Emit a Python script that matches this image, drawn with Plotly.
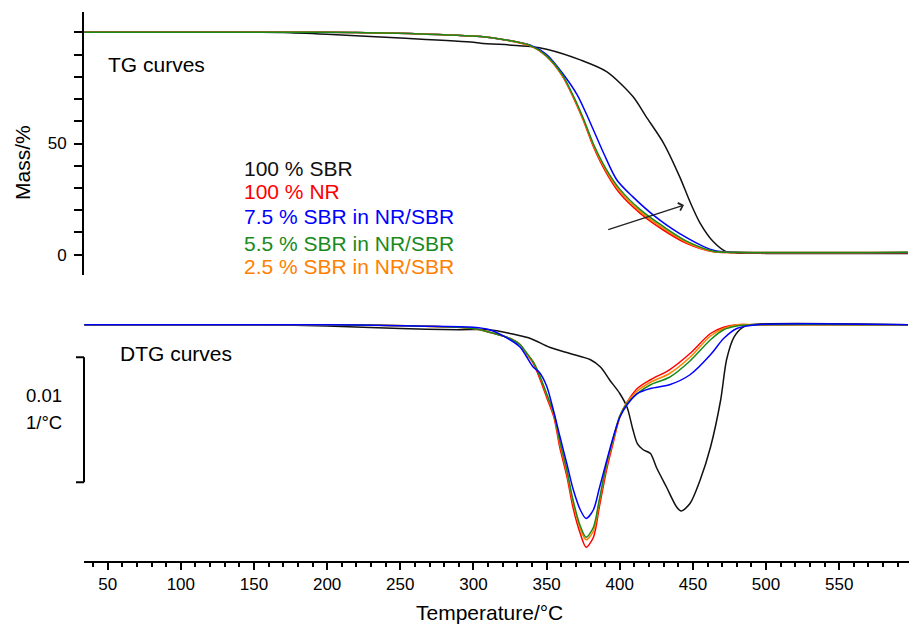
import plotly.graph_objects as go

# ---------------- data ----------------
# TG curves (mass %, vs temperature °C)
tg_sbr_T = [34, 150, 170, 200, 250, 300, 305, 339, 350, 373, 391, 409, 418, 430, 441, 448, 455, 464, 473, 480, 500, 597]
tg_sbr_m = [100, 100, 99.9, 99.1, 97.4, 95.5, 95.1, 93.6, 92.4, 87.6, 82.3, 71.1, 62.1, 50.1, 35.0, 23.8, 14.1, 5.8, 1.3, 0.8, 0.6, 0.6]

tg_T = [34, 200, 220, 260, 305, 320, 339, 350, 361, 368, 375, 382, 391, 400, 414, 430, 446, 464, 480, 597]
tg_nr_m = [100, 100, 99.9, 99.4, 98.1, 96.8, 93.9, 89.1, 80.1, 71.1, 60.6, 48.6, 36.6, 27.6, 18.6, 11.0, 5.0, 1.3, 1.0, 1.0]
tg_green_m = [100, 100, 99.9, 99.4, 98.1, 96.8, 94.0, 89.4, 80.6, 71.8, 61.5, 49.8, 38.2, 29.5, 20.3, 12.6, 6.0, 1.6, 1.1, 1.1]
tg_orange_m = [100, 100, 99.9, 99.4, 98.1, 96.8, 93.9, 89.2, 80.3, 71.4, 61.0, 49.2, 37.4, 28.6, 19.4, 11.8, 5.5, 1.4, 1.0, 1.0]

tg_blue_T = [34, 200, 220, 260, 305, 320, 339, 350, 361, 371, 379, 389, 398, 409, 423, 441, 464, 480, 597]
tg_blue_m = [100, 100, 99.9, 99.4, 98.1, 96.8, 94.2, 90.0, 81.5, 71.8, 60.6, 45.6, 33.6, 26.0, 17.8, 9.5, 2.0, 1.1, 1.0]

# DTG curves (1/°C)
dtg_sbr_T = [34, 150, 200, 250, 290, 311, 325, 339, 352, 366, 380, 387, 393, 400, 405, 409, 412, 416, 421, 425, 432, 439, 442, 448, 455, 462, 469, 473, 478, 484, 489, 597]
dtg_sbr_v = [0, 0, -0.0001, -0.0003, -0.0004, -0.0004, -0.0007, -0.0011, -0.0018, -0.0023, -0.0028, -0.0034, -0.0044, -0.0055,
             -0.0066, -0.0084, -0.0095, -0.0100, -0.0103, -0.0114, -0.0130, -0.0146, -0.0149, -0.0143, -0.0124, -0.0098,
             -0.0060, -0.0028, -0.0010, -0.0002, 0, 0]

dtg_T = [34, 200, 260, 300, 311, 325, 332, 336, 341, 345, 350, 355, 359, 364, 368, 373, 377, 382, 386, 391, 396, 400, 405,
         412, 421, 434, 448, 462, 471, 480, 494, 597]
dtg_nr_v = [0, 0, -0.0001, -0.0003, -0.0006, -0.0011, -0.0016, -0.0023, -0.0031, -0.0042, -0.0058, -0.0074, -0.0098,
            -0.0122, -0.0146, -0.0167, -0.0178, -0.0170, -0.0146, -0.0116, -0.0092, -0.0074, -0.0062, -0.0051, -0.0044,
            -0.0036, -0.0023, -0.0007, -0.0002, 0, 0, 0]
dtg_orange_v = [0, 0, -0.0001, -0.0003, -0.0006, -0.0011, -0.0016, -0.0023, -0.0030, -0.0040, -0.0056, -0.0072, -0.0095,
                -0.0119, -0.0142, -0.0163, -0.0172, -0.0165, -0.0142, -0.0113, -0.0090, -0.0073, -0.0062, -0.0053, -0.0046,
                -0.0039, -0.0026, -0.0009, -0.0003, 0, 0, 0]
dtg_green_v = [0, 0, -0.0001, -0.0003, -0.0006, -0.0011, -0.0016, -0.0022, -0.0030, -0.0040, -0.0055, -0.0071, -0.0093,
               -0.0117, -0.0140, -0.0161, -0.0170, -0.0162, -0.0140, -0.0111, -0.0089, -0.0073, -0.0063, -0.0055, -0.0048,
               -0.0042, -0.0029, -0.0012, -0.0004, -0.0001, 0, 0]
dtg_blue_v = [0, 0, -0.0001, -0.0002, -0.0004, -0.0012, -0.0018, -0.0025, -0.0034, -0.0038, -0.0049, -0.0070, -0.0089,
              -0.0112, -0.0131, -0.0148, -0.0155, -0.0148, -0.0131, -0.0109, -0.0088, -0.0074, -0.0064, -0.0055, -0.0051,
              -0.0048, -0.0040, -0.0024, -0.0011, -0.0003, 0, 0]

labels = ["100 % SBR", "100 % NR", "7.5 % SBR in NR/SBR", "5.5 % SBR in NR/SBR", "2.5 % SBR in NR/SBR"]
colors = ["#111111", "#ff0000", "#0000ff", "#1a8a1a", "#ff8000"]

x_ticks = [50, 100, 150, 200, 250, 300, 350, 400, 450, 500, 550]
tg_ticks = [0, 10, 20, 30, 40, 50, 60, 70, 80, 90, 100]
tg_ticktext = ["0", "", "", "", "", "50", "", "", "", "", ""]
scale_bar_top = -0.0026
scale_bar_len = 0.01

FONT = "Liberation Sans, Arial, Helvetica, sans-serif"

# ---------------- figure ----------------
fig = go.Figure()
lw = 1.5
sm = 0.8


def line(c):
    return dict(color=c, width=lw, shape="spline", smoothing=sm)


# TG
fig.add_trace(go.Scatter(x=tg_sbr_T, y=tg_sbr_m, mode="lines", line=line(colors[0]), xaxis="x", yaxis="y"))
fig.add_trace(go.Scatter(x=tg_blue_T, y=tg_blue_m, mode="lines", line=line(colors[2]), xaxis="x", yaxis="y"))
fig.add_trace(go.Scatter(x=tg_T, y=tg_nr_m, mode="lines", line=line(colors[1]), xaxis="x", yaxis="y"))
fig.add_trace(go.Scatter(x=tg_T, y=tg_orange_m, mode="lines", line=line(colors[4]), xaxis="x", yaxis="y"))
fig.add_trace(go.Scatter(x=tg_T, y=tg_green_m, mode="lines", line=line(colors[3]), xaxis="x", yaxis="y"))

# DTG
fig.add_trace(go.Scatter(x=dtg_sbr_T, y=dtg_sbr_v, mode="lines", line=line(colors[0]), xaxis="x", yaxis="y2"))
fig.add_trace(go.Scatter(x=dtg_T, y=dtg_nr_v, mode="lines", line=line(colors[1]), xaxis="x", yaxis="y2"))
fig.add_trace(go.Scatter(x=dtg_T, y=dtg_orange_v, mode="lines", line=line(colors[4]), xaxis="x", yaxis="y2"))
fig.add_trace(go.Scatter(x=dtg_T, y=dtg_green_v, mode="lines", line=line(colors[3]), xaxis="x", yaxis="y2"))
fig.add_trace(go.Scatter(x=dtg_T, y=dtg_blue_v, mode="lines", line=line(colors[2]), xaxis="x", yaxis="y2"))

fig.update_layout(
    width=909, height=627, autosize=False,
    margin=dict(l=84, r=0, t=12, b=66),
    paper_bgcolor="white", plot_bgcolor="white",
    showlegend=False,
    font=dict(family=FONT, size=17, color="black"),
    xaxis=dict(
        range=[33.8, 597.7], domain=[0, 1], anchor="y2",
        showline=True, linewidth=2, linecolor="black", mirror=False,
        ticks="outside", ticklen=7, tickwidth=1.5, tickcolor="black",
        tickvals=x_ticks, ticktext=[str(v) for v in x_ticks],
        tickfont=dict(size=17, family=FONT), showgrid=False, zeroline=False,
        minor=dict(dtick=10, tick0=0, ticks="outside", ticklen=4, tickwidth=1.5, tickcolor="black", showgrid=False),
    ),
    yaxis=dict(
        domain=[0.5209, 1.0], range=[-9.13, 109.13], anchor="x",
        showline=True, linewidth=2, linecolor="black",
        ticks="outside", ticklen=8, tickwidth=1.5, tickcolor="black",
        tickvals=tg_ticks, ticktext=tg_ticktext, tickfont=dict(size=17, family=FONT),
        ticklabelstandoff=4,
        showgrid=False, zeroline=False,
    ),
    yaxis2=dict(
        domain=[0, 0.4754], range=[-0.0189, 0.00198], anchor="x",
        visible=False, showgrid=False, zeroline=False,
    ),
)

# scale bar for DTG
bar_bottom = scale_bar_top - scale_bar_len
tick_dx = -8 / 825
fig.add_shape(type="line", xref="paper", yref="y2", x0=0, x1=0, y0=scale_bar_top, y1=bar_bottom, line=dict(color="black", width=2))
fig.add_shape(type="line", xref="paper", yref="y2", x0=tick_dx, x1=0, y0=scale_bar_top, y1=scale_bar_top, line=dict(color="black", width=2))
fig.add_shape(type="line", xref="paper", yref="y2", x0=tick_dx, x1=0, y0=bar_bottom, y1=bar_bottom, line=dict(color="black", width=2))


def px(xp):
    return (xp - 84) / 825


def py(yp):
    return (561 - yp) / 549


ann = []
ann.append(dict(text="0.01", xref="paper", yref="paper", x=px(44), y=py(395.5), showarrow=False, xanchor="center", yanchor="middle", font=dict(size=18.5, family=FONT, color="black")))
ann.append(dict(text="1/°C", xref="paper", yref="paper", x=px(44), y=py(422), showarrow=False, xanchor="center", yanchor="middle", font=dict(size=18.5, family=FONT, color="black")))
ann.append(dict(text="Mass/%", xref="paper", yref="paper", x=px(22), y=py(163), textangle=-90, showarrow=False, xanchor="center", yanchor="middle", font=dict(size=21, family=FONT, color="black")))
ann.append(dict(text="TG curves", xref="paper", yref="paper", x=px(106), y=py(64), showarrow=False, xanchor="left", yanchor="middle", font=dict(size=21, family=FONT, color="black")))
ann.append(dict(text="DTG curves", xref="paper", yref="paper", x=px(118), y=py(353), showarrow=False, xanchor="left", yanchor="middle", font=dict(size=21, family=FONT, color="black")))
ann.append(dict(text="Temperature/°C", xref="paper", yref="paper", x=px(489), y=py(612), showarrow=False, xanchor="center", yanchor="middle", font=dict(size=21, family=FONT, color="black")))

legend_y = [168.5, 191.5, 216.5, 243.5, 266.5]
for lab, col, yy in zip(labels, colors, legend_y):
    ann.append(dict(text=lab, xref="paper", yref="paper", x=px(242), y=py(yy), showarrow=False, xanchor="left", yanchor="middle", font=dict(size=21, family=FONT, color=col)))

# arrow indicating increasing SBR content
ann.append(dict(x=443.9, y=22.3, ax=391.1, ay=11.1, xref="x", yref="y", axref="x", ayref="y", text="", showarrow=True,
                arrowhead=4, arrowsize=1.2, arrowwidth=1.3, arrowcolor="#222222"))

fig.update_layout(annotations=ann)

fig.write_html("out.html", config={"displayModeBar": False},
               post_script="document.body.style.margin='0';document.documentElement.style.overflow='hidden';")
